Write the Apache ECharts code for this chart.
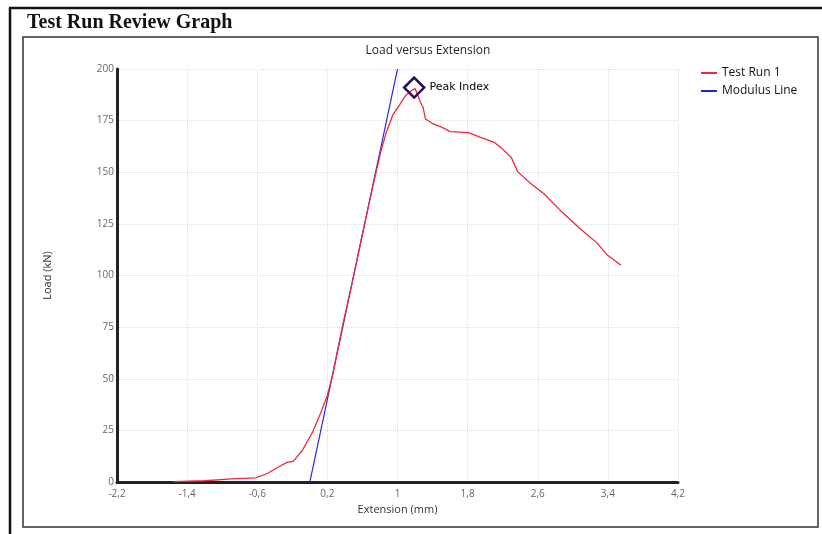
<!DOCTYPE html>
<html>
<head>
<meta charset="utf-8">
<script src="https://cdn.jsdelivr.net/npm/echarts@6/dist/echarts.min.js"></script>
<style>
  html, body { margin: 0; padding: 0; background: #fff; }
  #chart { width: 822px; height: 534px; }
</style>
</head>
<body>
<div id="chart"></div>
<script>
// Test Run 1: [extension (mm), load (kN)]
var testRun = [
  [-1.56, 0.2], [-1.2, 0.6], [-0.89, 1.5], [-0.62, 2], [-0.49, 4],
  [-0.37, 7], [-0.26, 9.5], [-0.19, 10], [-0.09, 15], [0.03, 24],
  [0.12, 33], [0.2, 42], [0.25, 50], [0.37, 75], [0.49, 98],
  [0.62, 124], [0.756, 150.3], [0.81, 160], [0.87, 169], [0.944, 177.5],
  [1.02, 182.4], [1.095, 187.3], [1.17, 189.8], [1.2, 190.5], [1.226, 188],
  [1.26, 184], [1.29, 181.6], [1.32, 175.8], [1.395, 173.7], [1.51, 171.7],
  [1.6, 169.7], [1.81, 169.2], [1.94, 167], [2.11, 164.3], [2.185, 161.8],
  [2.3, 157], [2.37, 150.3], [2.52, 144.6], [2.67, 139.6], [2.86, 131.4],
  [3.09, 122.4], [3.275, 115.8], [3.39, 110], [3.55, 105]
];
// Modulus line end points
var modulusLine = [[0.0, 0], [1.0, 200]];
var peakPoint = [1.19, 191];
var seriesNames = ["Test Run 1", "Modulus Line"];

var chart = echarts.init(document.getElementById("chart"));

chart.setOption({
  animation: false,
  backgroundColor: "#fff",
  title: {
    text: "Load versus Extension",
    left: 423,
    textAlign: "center",
    top: 40,
    textStyle: { fontFamily: "Open Sans", fontSize: 12, fontWeight: "normal", color: "#222" }
  },
  legend: {
    orient: "vertical",
    left: 696,
    top: 62,
    itemWidth: 16,
    itemHeight: 2,
    itemGap: 6,
    icon: "rect",
    textStyle: { fontFamily: "Open Sans", fontSize: 12, color: "#111" },
    data: seriesNames
  },
  grid: { left: 117, right: 144, top: 69, bottom: 52 },
  xAxis: {
    type: "value",
    min: -2.2,
    max: 4.2,
    interval: 0.8,
    name: "Extension (mm)",
    nameLocation: "middle",
    nameGap: 22,
    nameTextStyle: { fontFamily: "Open Sans", fontSize: 11, color: "#333" },
    axisLine: { onZero: false, lineStyle: { color: "#222", width: 3 } },
    axisTick: { show: false },
    axisLabel: {
      fontFamily: "Open Sans", fontSize: 10, color: "#666", margin: 7,
      formatter: function (v) {
        return String(Math.round(v * 10) / 10).replace(".", ",");
      }
    },
    splitLine: { show: true, lineStyle: { color: "#ddd", type: "dotted" } }
  },
  yAxis: {
    type: "value",
    min: 0,
    max: 200,
    interval: 25,
    name: "Load (kN)",
    nameLocation: "middle",
    nameGap: 64,
    nameTextStyle: { fontFamily: "Open Sans", fontSize: 11, color: "#333" },
    axisLine: { show: true, onZero: false, lineStyle: { color: "#222", width: 3 } },
    axisTick: { show: false },
    axisLabel: { fontFamily: "Open Sans", fontSize: 10, color: "#666", margin: 3 },
    splitLine: { show: true, lineStyle: { color: "#ddd", type: "dotted" } }
  },
  series: [
    {
      name: seriesNames[0],
      type: "line",
      data: testRun,
      showSymbol: false,
      symbol: "none",
      itemStyle: { color: "#ee2a3a" },
      lineStyle: { color: "#ee2a3a", width: 1.3 },
      z: 3
    },
    {
      name: seriesNames[1],
      type: "line",
      data: modulusLine,
      showSymbol: false,
      symbol: "none",
      itemStyle: { color: "#2222dd" },
      lineStyle: { color: "#2222dd", width: 1.2 },
      z: 2
    },
    {
      name: "Peak Index",
      type: "scatter",
      data: [peakPoint],
      symbol: "diamond",
      symbolSize: 20,
      itemStyle: { color: "rgba(255,255,255,0)", borderColor: "#2a0a55", borderWidth: 2.5, opacity: 1 },
      label: {
        show: true,
        position: "right",
        distance: 4,
        formatter: "Peak Index",
        fontFamily: "DejaVu Sans",
        fontSize: 11,
        color: "#000"
      },
      z: 5
    }
  ],
  graphic: [
    { type: "line", shape: { x1: 9, y1: 8, x2: 822, y2: 8 }, style: { stroke: "#111", lineWidth: 2.5 } },
    { type: "line", shape: { x1: 10, y1: 8, x2: 10, y2: 534 }, style: { stroke: "#111", lineWidth: 2.5 } },
    { type: "rect", shape: { x: 23, y: 37, width: 795, height: 490 }, style: { fill: "none", stroke: "#333", lineWidth: 1.5 } },
    {
      type: "text", left: 27, top: 13,
      style: { text: "Test Run Review Graph", font: "bold 20px 'Liberation Serif'", fill: "#111" }
    }
  ]
});
</script>
</body>
</html>
